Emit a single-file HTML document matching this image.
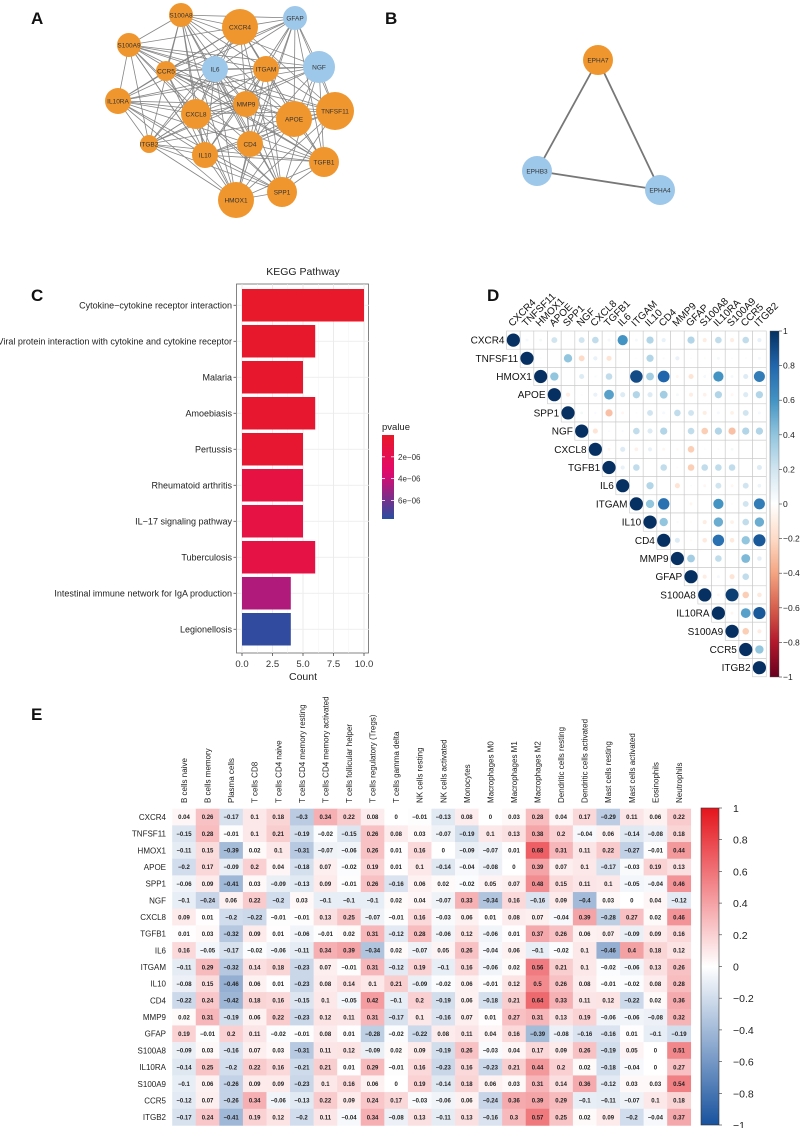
<!DOCTYPE html>
<html><head><meta charset="utf-8">
<style>
html,body{margin:0;padding:0;background:#fff}
body{width:800px;height:1128px;overflow:hidden;font-family:"Liberation Sans",sans-serif}
svg{display:block}
</style></head>
<body>
<svg id="fig" width="800" height="1128" viewBox="0 0 800 1128" xmlns="http://www.w3.org/2000/svg" font-family="Liberation Sans, sans-serif">
<g font-weight="bold" font-size="17" fill="#111">
<text x="31" y="24">A</text>
<text x="385" y="24">B</text>
<text x="31" y="301">C</text>
<text x="487" y="301">D</text>
<text x="31" y="720">E</text>
</g>
<g id="netA"></g>
<g id="netB"></g>
<g id="kegg"></g>
<g id="corr"></g>
<g id="heat"></g>
</svg>
<script>
const NS="http://www.w3.org/2000/svg";
function mk(parent,tag,attrs,text){const e=document.createElementNS(NS,tag);for(const k in attrs)e.setAttribute(k,attrs[k]);if(text!==undefined)e.textContent=text;parent.appendChild(e);return e;}

// ---------- Panel A network ----------
const nodeNamesA=["S100A8","S100A9","CXCR4","GFAP","IL6","ITGAM","NGF","CCR5","IL10RA","CXCL8","MMP9","APOE","TNFSF11","ITGB2","IL10","CD4","TGFB1","SPP1","HMOX1"];
const nodeXA=[181,129,240,295,215,266,319,166,118,196,246,294,335,149,205,250,324,282,236];
const nodeYA=[15,45,27,18,69,69,67,71,101,114,104,119,111,144,155,144,162,192,200];
const nodeRA=[12,12,18,12,13,13,16,10,13,15,13,18,19,9,13,13,15,15,18];
const nodeTypeA=[0,0,0,1,1,0,1,0,0,0,0,0,0,0,0,0,0,0,0];
const netA=document.getElementById('netA');
for(let i=0;i<nodeNamesA.length;i++)for(let j=i+1;j<nodeNamesA.length;j++){
  if((i*7+j*3)%4===0)continue;
  const l=mk(netA,'line',{x1:nodeXA[i],y1:nodeYA[i],x2:nodeXA[j],y2:nodeYA[j],stroke:'#858585','stroke-width':0.8});
  
  
}
for(let i=0;i<nodeNamesA.length;i++){
  const c=mk(netA,'circle',{cx:nodeXA[i],cy:nodeYA[i],r:nodeRA[i],fill:nodeTypeA[i]?'#9DC8EA':'#F0962E'});
  
  
  const t=mk(netA,'text',{x:nodeXA[i],y:nodeYA[i]+2.5,'font-size':6.5,'text-anchor':'middle',fill:'#333'},nodeNamesA[i]);
  
  
}

// ---------- Panel B ----------
const nodeNamesB=["EPHA7","EPHB3","EPHA4"];
const nodeXB=[598,537,660];
const nodeYB=[60,171,190];
const nodeTypeB=[0,1,1];
const netB=document.getElementById('netB');
for(let i=0;i<3;i++){const j=(i+1)%3;
  const l=mk(netB,'line',{x1:nodeXB[i],y1:nodeYB[i],x2:nodeXB[j],y2:nodeYB[j],stroke:'#777','stroke-width':1.8});
  
  
}
for(let i=0;i<3;i++){
  const c=mk(netB,'circle',{cx:nodeXB[i],cy:nodeYB[i],r:15,fill:nodeTypeB[i]?'#9DC8EA':'#F0962E'});
  
  
  const t=mk(netB,'text',{x:nodeXB[i],y:nodeYB[i]+2.5,'font-size':6.5,'text-anchor':'middle',fill:'#333'},nodeNamesB[i]);
  
  
}

// ---------- Panel C KEGG bars ----------
const pathways=["Cytokine\u2212cytokine receptor interaction","Viral protein interaction with cytokine and cytokine receptor","Malaria","Amoebiasis","Pertussis","Rheumatoid arthritis","IL\u221217 signaling pathway","Tuberculosis","Intestinal immune network for IgA production","Legionellosis"];
const counts=[10,6,5,6,5,5,5,6,4,4];
const pvalues=[1e-7,2e-7,3e-7,4e-7,5e-7,1.3e-6,1.4e-6,1.5e-6,4.6e-6,7.5e-6];
const countTicks=[0,2.5,5,7.5,10];
const countTickLabels=["0.0","2.5","5.0","7.5","10.0"];
const pTicks=[2e-6,4e-6,6e-6];
const pTickLabels=["2e\u221206","4e\u221206","6e\u221206"];
const kegg=document.getElementById('kegg');
const cx0=242,cxs=12.2,cy0=289,cpitch=36.0,cbh=32.5;
const xC=v=>cx0+v*cxs;
const pMin=0,pMax=7.7e-6;
function pColor(p){const t=Math.max(0,Math.min(1,(p-pMin)/(pMax-pMin)));
  const a=[232,25,40],m=[226,8,110],b=[40,78,160];let r;
  if(t<0.45){const u=t/0.45;r=a.map((v,k)=>v+(m[k]-v)*u);}else{const u=(t-0.45)/0.55;r=m.map((v,k)=>v+(b[k]-v)*u);}
  return 'rgb('+r.map(Math.round).join(',')+')';}
mk(kegg,'rect',{x:236.5,y:284,width:132,height:369,fill:'#fff',stroke:'#666','stroke-width':0.8});
for(const v of countTicks){mk(kegg,'line',{x1:xC(v),x2:xC(v),y1:284,y2:653,stroke:'#e6e6e6','stroke-width':0.8});}
for(const v of [1.25,3.75,6.25,8.75]){mk(kegg,'line',{x1:xC(v),x2:xC(v),y1:284,y2:653,stroke:'#f3f3f3','stroke-width':0.5});}
pathways.forEach((p,i)=>{const cy=cy0+i*cpitch+cbh/2;
  mk(kegg,'line',{x1:236.5,x2:369,y1:cy,y2:cy,stroke:'#ebebeb','stroke-width':0.8});});
pathways.forEach((p,i)=>{
  const y=cy0+i*cpitch;
  const r=mk(kegg,'rect',{x:xC(0),y:y,width:xC(counts[i])-xC(0),height:cbh,fill:pColor(pvalues[i])});
  
  
  mk(kegg,'line',{x1:233.5,x2:236.5,y1:y+cbh/2,y2:y+cbh/2,stroke:'#333','stroke-width':0.7});
  const t=mk(kegg,'text',{x:232,y:y+cbh/2+3.3,'font-size':9,'text-anchor':'end',fill:'#222'},p);
  
  
});
countTicks.forEach((v,i)=>{
  mk(kegg,'line',{x1:xC(v),x2:xC(v),y1:653,y2:656,stroke:'#333','stroke-width':0.7});
  const t=mk(kegg,'text',{x:xC(v),y:667,'font-size':9.5,'text-anchor':'middle',fill:'#333'},countTickLabels[i]);
  
  
});
{const t=mk(kegg,'text',{x:303,y:680,'font-size':10.5,'text-anchor':'middle',fill:'#222'},'Count');}
{const t=mk(kegg,'text',{x:303,y:275,'font-size':10.5,'text-anchor':'middle',fill:'#222'},'KEGG Pathway');}
const defs=mk(document.getElementById('fig'),'defs',{});
const lg=mk(defs,'linearGradient',{id:'pg',x1:0,y1:0,x2:0,y2:1});
for(let k=0;k<=10;k++){mk(lg,'stop',{offset:(k/10),'stop-color':pColor(pMin+(pMax-pMin)*k/10)});}
const lgTop=435,lgBot=519;
const yP=p=>lgTop+(p-pMin)/(pMax-pMin)*(lgBot-lgTop);
{const t=mk(kegg,'text',{x:382,y:430,'font-size':9.5,fill:'#222'},'pvalue');}
{const r=mk(kegg,'rect',{x:382,y:lgTop,width:12,height:lgBot-lgTop,fill:'url(#pg)'});}
pTicks.forEach((p,i)=>{const y=yP(p);
  mk(kegg,'line',{x1:382,x2:385,y1:y,y2:y,stroke:'#fff','stroke-width':0.8});
  mk(kegg,'line',{x1:391,x2:394,y1:y,y2:y,stroke:'#fff','stroke-width':0.8});
  const t=mk(kegg,'text',{x:398,y:y+3,'font-size':8,fill:'#333'},pTickLabels[i]);
  });

// ---------- RdBu colormap ----------
const rdbu=["#67001F","#B2182B","#D6604D","#F4A582","#FDDBC7","#FFFFFF","#D1E5F0","#92C5DE","#4393C3","#2166AC","#053061"];
function hex(h){return [1,3,5].map(k=>parseInt(h.substr(k,2),16));}
function rdbuColor(v){const t=(Math.max(-1,Math.min(1,v))+1)/2*10;const i=Math.min(9,Math.floor(t));const u=t-i;
  const a=hex(rdbu[i]),b=hex(rdbu[i+1]);return 'rgb('+a.map((x,k)=>Math.round(x+(b[k]-x)*u)).join(',')+')';}

// ---------- Panel D correlation ----------
const genesD=["CXCR4","TNFSF11","HMOX1","APOE","SPP1","NGF","CXCL8","TGFB1","IL6","ITGAM","IL10","CD4","MMP9","GFAP","S100A8","IL10RA","S100A9","CCR5","ITGB2"];
const corrRow0=[0.05,0.05,0.2,0,0.2,0.25,0.05,0.6,0.05,0.3,0.1,0,0.3,-0.1,0.25,-0.1,0.25,0.1];
const corrRow1=[0.02,0,0.4,-0.2,0.1,-0.15,0,0.02,0.3,0.03,0.1,0.02,0.02,0.05,0.02,0.02,0.05];
const corrRow2=[0.4,0,0.15,0.03,0.25,0,0.9,0.35,0.8,-0.05,-0.15,0.05,0.6,0.05,0.15,0.7];
const corrRow3=[-0.1,0.02,0.1,0.55,0.15,0.3,0.15,0.35,0.05,-0.1,-0.08,0.3,-0.05,0.15,0.3];
const corrRow4=[0.05,0.03,-0.3,-0.05,0.02,0.2,0.05,0.25,0.2,-0.1,0.05,-0.08,0.2,0.05];
const corrRow5=[-0.15,0.02,0.03,0.25,0.15,0.3,0,0.25,-0.25,0.3,-0.3,0.3,0.3];
const corrRow6=[-0.05,0.15,-0.08,0.1,-0.05,-0.03,-0.25,0.02,0.02,0.05,0.01,0];
const corrRow7=[0.1,0.25,0,0.25,-0.02,-0.25,0.25,0.25,0.25,0,0.15];
const corrRow8=[0,0.3,0,-0.15,0.02,-0.05,0.2,-0.05,0.2,0.08];
const corrRow9=[0.4,0.75,0,-0.05,0,0.6,-0.02,0.2,0.7];
const corrRow10=[0.4,-0.03,-0.02,-0.1,0.5,-0.08,0.25,0.5];
const corrRow11=[0.15,-0.03,-0.12,0.75,-0.12,0.4,0.85];
const corrRow12=[0.35,0,0.25,0,0.45,0.12];
const corrRow13=[-0.1,0.05,-0.15,0.25,0];
const corrRow14=[-0.05,0.95,-0.25,-0.12];
const corrRow15=[-0.05,0.55,0.85];
const corrRow16=[-0.25,-0.1];
const corrRow17=[0.4];
const corrRows=[corrRow0,corrRow1,corrRow2,corrRow3,corrRow4,corrRow5,corrRow6,corrRow7,corrRow8,corrRow9,corrRow10,corrRow11,corrRow12,corrRow13,corrRow14,corrRow15,corrRow16,corrRow17,[]];
const corrTicks=[1,0.8,0.6,0.4,0.2,0,-0.2,-0.4,-0.6,-0.8,-1];
const corrTickLabels=["1","0.8","0.6","0.4","0.2","0","\u22120.2","\u22120.4","\u22120.6","\u22120.8","\u22121"];
const corr=document.getElementById('corr');
const dx0=506.5,dcw=13.67,dy0=331,dch=18.2;
const colX=j=>dx0+j*dcw, rowY=i=>dy0+i*dch;
genesD.forEach((g,i)=>{
  for(let j=i;j<genesD.length;j++){
    mk(corr,'rect',{x:colX(j),y:rowY(i),width:dcw,height:dch,fill:'#fff',stroke:'#c8c8c8','stroke-width':0.6});
  }
});
genesD.forEach((g,i)=>{
  for(let j=i;j<genesD.length;j++){
    const v=(j===i)?1:corrRows[i][j-i-1];
    if(Math.abs(v)<0.005)continue;
    const c=mk(corr,'circle',{cx:colX(j)+dcw/2,cy:rowY(i)+dch/2,r:6.6*Math.sqrt(Math.abs(v)),fill:rdbuColor(v)});
    
    
  }
  const t=mk(corr,'text',{x:colX(i)-2,y:rowY(i)+dch/2+3.5,'font-size':10,'text-anchor':'end',fill:'#111'},g);
  
  const tx=colX(i)+dcw/2-1, ty=dy0-4;
  const t2=mk(corr,'text',{x:tx,y:ty,'font-size':10,fill:'#111',transform:'rotate(-45 '+tx+' '+ty+')'},g);
  
});
const lg2=mk(defs,'linearGradient',{id:'rdbuG',x1:0,y1:0,x2:0,y2:1});
rdbu.slice().reverse().forEach((c,k)=>mk(lg2,'stop',{offset:k/10,'stop-color':c}));
const dcbTop=331,dcbBot=677;
{const r=mk(corr,'rect',{x:770,y:dcbTop,width:9,height:dcbBot-dcbTop,fill:'url(#rdbuG)',stroke:'#555','stroke-width':0.4});}
corrTicks.forEach((v,i)=>{const y=dcbTop+(1-v)/2*(dcbBot-dcbTop);
  mk(corr,'line',{x1:779,x2:782,y1:y,y2:y,stroke:'#333','stroke-width':0.6});
  const t=mk(corr,'text',{x:783,y:y+3,'font-size':8.5,fill:'#222'},corrTickLabels[i]);
  });

// ---------- Panel E heatmap ----------
const cellTypes=["B cells naive","B cells memory","Plasma cells","T cells CD8","T cells CD4 naive","T cells CD4 memory resting","T cells CD4 memory activated","T cells follicular helper","T cells regulatory (Tregs)","T cells gamma delta","NK cells resting","NK cells activated","Monocytes","Macrophages M0","Macrophages M1","Macrophages M2","Dendritic cells resting","Dendritic cells activated","Mast cells resting","Mast cells activated","Eosinophils","Neutrophils"];
const heatGenes=["CXCR4","TNFSF11","HMOX1","APOE","SPP1","NGF","CXCL8","TGFB1","IL6","ITGAM","IL10","CD4","MMP9","GFAP","S100A8","IL10RA","S100A9","CCR5","ITGB2"];
const hCXCR4=[0.04,0.26,-0.17,0.1,0.18,-0.3,0.34,0.22,0.08,0,-0.01,-0.13,0.08,0,0.03,0.28,0.04,0.17,-0.29,0.11,0.06,0.22];
const hTNFSF11=[-0.15,0.28,-0.01,0.1,0.21,-0.19,-0.02,-0.15,0.26,0.08,0.03,-0.07,-0.19,0.1,0.13,0.38,0.2,-0.04,0.06,-0.14,-0.08,0.18];
const hHMOX1=[-0.11,0.15,-0.39,0.02,0.1,-0.31,-0.07,-0.06,0.26,0.01,0.16,0,-0.09,-0.07,0.01,0.68,0.31,0.11,0.22,-0.27,-0.01,0.44];
const hAPOE=[-0.2,0.17,-0.09,0.2,0.04,-0.18,0.07,-0.02,0.19,0.01,0.1,-0.14,-0.04,-0.08,0,0.39,0.07,0.1,-0.17,-0.03,0.19,0.13];
const hSPP1=[-0.06,0.09,-0.41,0.03,-0.09,-0.13,0.09,-0.01,0.26,-0.16,0.06,0.02,-0.02,0.05,0.07,0.48,0.15,0.11,0.1,-0.05,-0.04,0.46];
const hNGF=[-0.1,-0.24,0.06,0.22,-0.2,0.03,-0.1,-0.1,-0.1,0.02,0.04,-0.07,0.33,-0.34,0.16,-0.16,0.09,-0.4,0.03,0,0.04,-0.12];
const hCXCL8=[0.09,0.01,-0.2,-0.22,-0.01,-0.01,0.13,0.25,-0.07,-0.01,0.16,-0.03,0.06,0.01,0.08,0.07,-0.04,0.39,-0.28,0.27,0.02,0.46];
const hTGFB1=[0.01,0.03,-0.32,0.09,0.01,-0.06,-0.01,0.02,0.31,-0.12,0.28,-0.06,0.12,-0.06,0.01,0.37,0.26,0.06,0.07,-0.09,0.09,0.16];
const hIL6=[0.16,-0.05,-0.17,-0.02,-0.06,-0.11,0.34,0.39,-0.34,0.02,-0.07,0.05,0.26,-0.04,0.06,-0.1,-0.02,0.1,-0.46,0.4,0.18,0.12];
const hITGAM=[-0.11,0.29,-0.32,0.14,0.18,-0.23,0.07,-0.01,0.31,-0.12,0.19,-0.1,0.16,-0.06,0.02,0.56,0.21,0.1,-0.02,-0.06,0.13,0.26];
const hIL10=[-0.08,0.15,-0.46,0.06,0.01,-0.23,0.08,0.14,0.1,0.21,-0.09,-0.02,0.06,-0.01,0.12,0.5,0.26,0.08,-0.01,-0.02,0.08,0.28];
const hCD4=[-0.22,0.24,-0.42,0.18,0.16,-0.15,0.1,-0.05,0.42,-0.1,0.2,-0.19,0.06,-0.18,0.21,0.64,0.33,0.11,0.12,-0.22,0.02,0.36];
const hMMP9=[0.02,0.31,-0.19,0.06,0.22,-0.23,0.12,0.11,0.31,-0.17,0.1,-0.16,0.07,0.01,0.27,0.31,0.13,0.19,-0.06,-0.06,-0.08,0.32];
const hGFAP=[0.19,-0.01,0.2,0.11,-0.02,-0.01,0.08,0.01,-0.28,-0.02,-0.22,0.08,0.11,0.04,0.16,-0.39,-0.08,-0.16,-0.16,0.01,-0.1,-0.19];
const hS100A8=[-0.09,0.03,-0.16,0.07,0.03,-0.31,0.11,0.12,-0.09,0.02,0.09,-0.19,0.26,-0.03,0.04,0.17,0.09,0.26,-0.19,0.05,0,0.51];
const hIL10RA=[-0.14,0.25,-0.2,0.22,0.16,-0.21,0.21,0.01,0.29,-0.01,0.16,-0.23,0.16,-0.23,0.21,0.44,0.2,0.02,-0.18,-0.04,0,0.27];
const hS100A9=[-0.1,0.06,-0.26,0.09,0.09,-0.23,0.1,0.16,0.06,0,0.19,-0.14,0.18,0.06,0.03,0.31,0.14,0.36,-0.12,0.03,0.03,0.54];
const hCCR5=[-0.12,0.07,-0.26,0.34,-0.06,-0.13,0.22,0.09,0.24,0.17,-0.03,-0.06,0.06,-0.24,0.36,0.39,0.29,-0.1,-0.11,-0.07,0.1,0.18];
const hITGB2=[-0.17,0.24,-0.41,0.19,0.12,-0.2,0.11,-0.04,0.34,-0.08,0.13,-0.11,0.13,-0.16,0.3,0.57,0.25,0.02,0.09,-0.2,-0.04,0.37];
const heatRows=[hCXCR4,hTNFSF11,hHMOX1,hAPOE,hSPP1,hNGF,hCXCL8,hTGFB1,hIL6,hITGAM,hIL10,hCD4,hMMP9,hGFAP,hS100A8,hIL10RA,hS100A9,hCCR5,hITGB2];
const heatTicks=[1,0.8,0.6,0.4,0.2,0,-0.2,-0.4,-0.6,-0.8,-1];
const heatTickLabels=["1","0.8","0.6","0.4","0.2","0","\u22120.2","\u22120.4","\u22120.6","\u22120.8","\u22121"];
const heat=document.getElementById('heat');
const hx0=172.2,hcw=23.57,hy0=808.7,hch=16.67;
function heatColor(v){const t=Math.min(1,Math.abs(v));const w=[255,255,255];const e=v>=0?[228,20,28]:[24,82,158];
  return 'rgb('+w.map((x,k)=>Math.round(x+(e[k]-x)*t)).join(',')+')';}
heatGenes.forEach((g,i)=>{
  const y=hy0+i*hch;
  heatRows[i].forEach((v,j)=>{
    const x=hx0+j*hcw;
    const r=mk(heat,'rect',{x:x,y:y,width:hcw+0.3,height:hch+0.3,fill:heatColor(v)});
    
    
    const t=mk(heat,'text',{x:x+hcw/2,y:y+hch/2+2.2,'font-size':6,'font-weight':'bold','text-anchor':'middle',fill:'#222'},String(v).replace('-','\u2212'));
    
  });
  const t=mk(heat,'text',{x:166,y:y+hch/2+3,'font-size':8,'text-anchor':'end',fill:'#222'},g);
  
});
cellTypes.forEach((c,j)=>{const x=hx0+j*hcw+hcw/2+3,y=803;
  const t=mk(heat,'text',{x:x,y:y,'font-size':8,fill:'#222',transform:'rotate(-90 '+x+' '+y+')'},c);
  });
const lg3=mk(defs,'linearGradient',{id:'hG',x1:0,y1:0,x2:0,y2:1});
[1,0.5,0,-0.5,-1].forEach((v,k)=>mk(lg3,'stop',{offset:k/4,'stop-color':heatColor(v)}));
const hcbTop=808,hcbBot=1125;
{const r=mk(heat,'rect',{x:701,y:hcbTop,width:18,height:hcbBot-hcbTop,fill:'url(#hG)',stroke:'#333','stroke-width':0.6});}
heatTicks.forEach((v,i)=>{const y=hcbTop+(1-v)/2*(hcbBot-hcbTop);
  mk(heat,'line',{x1:719,x2:722,y1:y,y2:y,stroke:'#333','stroke-width':0.6});
  const t=mk(heat,'text',{x:733,y:y+4,'font-size':10.5,fill:'#222'},heatTickLabels[i]);
  });
</script>
</body></html>
